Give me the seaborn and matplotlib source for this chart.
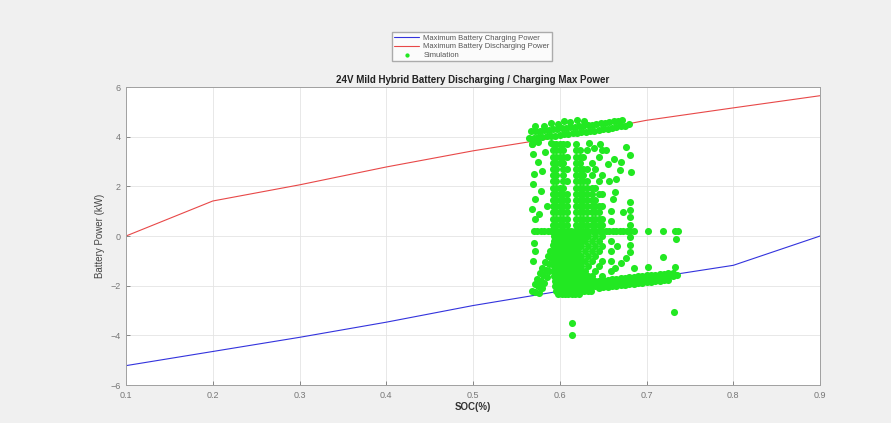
import matplotlib
matplotlib.use("Agg")
import matplotlib.pyplot as plt
import seaborn as sns
import pandas as pd

# ---------------- limit curves ----------------
soc_grid = [0.1, 0.2, 0.3, 0.4, 0.5, 0.6, 0.7, 0.8, 0.9]
max_charge_kw = [-5.22, -4.65, -4.08, -3.47, -2.80, -2.22, -1.72, -1.18, 0.0]
max_discharge_kw = [0.0, 1.41, 2.06, 2.78, 3.43, 3.99, 4.66, 5.16, 5.65]

# ---------------- simulation cloud ----------------
top_lo_soc = [0.565, 0.570, 0.575, 0.580, 0.585, 0.590, 0.595, 0.600, 0.605, 0.610, 0.615, 0.620,
              0.625, 0.630, 0.635, 0.640, 0.645, 0.650, 0.655, 0.660, 0.665, 0.670, 0.675, 0.680]
top_lo_kw = [3.95, 3.96, 3.98, 3.99, 4.01, 4.02, 4.04, 4.07, 4.09, 4.11, 4.13, 4.15,
             4.17, 4.19, 4.22, 4.24, 4.27, 4.29, 4.32, 4.35, 4.38, 4.41, 4.45, 4.52]
top_hi_soc = [0.567, 0.572, 0.577, 0.582, 0.587, 0.592, 0.597, 0.602, 0.607, 0.612, 0.617,
              0.622, 0.627, 0.632, 0.637, 0.642, 0.647, 0.652, 0.657, 0.662, 0.667, 0.672]
top_hi_kw = [4.21, 4.22, 4.24, 4.25, 4.27, 4.29, 4.31, 4.33, 4.35, 4.37, 4.39,
             4.41, 4.44, 4.46, 4.48, 4.51, 4.54, 4.56, 4.59, 4.62, 4.65, 4.68]
top_extra_soc = [0.572, 0.582, 0.590, 0.598, 0.605, 0.612, 0.620, 0.628, 0.590, 0.575, 0.568]
top_extra_kw = [4.45, 4.42, 4.55, 4.50, 4.62, 4.58, 4.66, 4.62, 3.75, 3.80, 3.72]

left_soc = [0.568, 0.569, 0.575, 0.570, 0.569, 0.578, 0.571, 0.568, 0.576, 0.572, 0.570, 0.571,
            0.569, 0.580, 0.583, 0.585]
left_kw = [3.70, 3.30, 3.00, 2.50, 2.10, 1.80, 1.50, 1.10, 0.90, 0.70, -0.30, -0.60,
           -1.00, 2.60, 3.40, 1.20]

hline_soc = [0.570, 0.574, 0.578, 0.582, 0.586, 0.590, 0.653, 0.657, 0.661, 0.665, 0.669,
             0.673, 0.677, 0.681, 0.685, 0.702, 0.719, 0.733, 0.736]
hline_kw = [0.22, 0.22, 0.22, 0.22, 0.22, 0.22, 0.22, 0.22, 0.22, 0.22, 0.22,
            0.22, 0.22, 0.22, 0.22, 0.22, 0.22, 0.22, 0.22]

diag_soc = [0.568, 0.571, 0.574, 0.577, 0.580, 0.583, 0.586, 0.589, 0.592,
            0.572, 0.575, 0.578, 0.581, 0.584, 0.587, 0.590, 0.593,
            0.576, 0.579, 0.582, 0.585, 0.588]
diag_kw = [-2.20, -1.95, -1.72, -1.50, -1.27, -1.05, -0.82, -0.60, -0.38,
           -2.25, -2.02, -1.80, -1.57, -1.35, -1.12, -0.90, -0.67,
           -2.28, -2.08, -1.88, -1.65, -1.42]

block_kw = [0.20, 0.00, -0.20, -0.40, -0.60, -0.80, -1.00, -1.20, -1.40, -1.60, -1.80,
            -2.00, -2.20, -2.35]
block_soc = [
    [0.593, 0.597, 0.601, 0.605, 0.609, 0.613, 0.617, 0.621, 0.625, 0.629, 0.633, 0.637, 0.641, 0.645, 0.649],
    [0.593, 0.597, 0.601, 0.605, 0.609, 0.613, 0.617, 0.621, 0.625, 0.629, 0.633, 0.641, 0.649],
    [0.593, 0.597, 0.601, 0.605, 0.609, 0.613, 0.617, 0.621, 0.625, 0.629, 0.637, 0.645],
    [0.593, 0.597, 0.601, 0.605, 0.609, 0.613, 0.617, 0.621, 0.625, 0.633, 0.641, 0.649],
    [0.593, 0.597, 0.601, 0.605, 0.609, 0.613, 0.617, 0.621, 0.629, 0.637, 0.645],
    [0.593, 0.597, 0.601, 0.605, 0.609, 0.613, 0.617, 0.621, 0.625, 0.633, 0.641],
    [0.593, 0.597, 0.601, 0.605, 0.609, 0.613, 0.617, 0.621, 0.625, 0.629, 0.637, 0.649],
    [0.593, 0.597, 0.601, 0.605, 0.609, 0.613, 0.617, 0.621, 0.625, 0.633, 0.645],
    [0.593, 0.597, 0.601, 0.605, 0.609, 0.613, 0.617, 0.621, 0.625, 0.629, 0.641],
    [0.593, 0.597, 0.601, 0.605, 0.609, 0.613, 0.617, 0.621, 0.625, 0.629, 0.633, 0.637, 0.649],
    [0.594, 0.597, 0.601, 0.605, 0.609, 0.613, 0.617, 0.621, 0.625, 0.629, 0.633, 0.637, 0.641, 0.645],
    [0.595, 0.598, 0.601, 0.605, 0.609, 0.613, 0.617, 0.621, 0.625, 0.629, 0.633, 0.637, 0.641],
    [0.596, 0.600, 0.604, 0.608, 0.612, 0.616, 0.620, 0.624, 0.628, 0.632, 0.636],
    [0.598, 0.602, 0.606, 0.610, 0.614, 0.618, 0.622],
]

bottom_soc = [0.645, 0.650, 0.655, 0.660, 0.665, 0.670, 0.675, 0.680, 0.685, 0.690, 0.695, 0.700,
              0.705, 0.710, 0.715, 0.720, 0.725, 0.730, 0.735]
bottom_kw = [-1.95, -1.93, -1.91, -1.89, -1.87, -1.85, -1.83, -1.81, -1.79, -1.77, -1.75, -1.73,
             -1.71, -1.69, -1.67, -1.65, -1.63, -1.60, -1.57]
bottom_hi_soc = [0.645, 0.650, 0.655, 0.660, 0.665, 0.670, 0.675, 0.680, 0.685, 0.690, 0.695, 0.700,
                 0.705, 0.710, 0.715, 0.720, 0.725, 0.730]
bottom_hi_kw = [-1.81, -1.79, -1.77, -1.75, -1.73, -1.71, -1.69, -1.67, -1.65, -1.63, -1.61, -1.59,
                -1.57, -1.55, -1.53, -1.51, -1.49, -1.47]
bottom_lo_soc = [0.645, 0.650, 0.655, 0.660, 0.665, 0.670, 0.675, 0.680, 0.685, 0.690, 0.695, 0.700,
                 0.705, 0.710, 0.715, 0.720, 0.725]
bottom_lo_kw = [-2.09, -2.07, -2.05, -2.03, -2.01, -1.99, -1.97, -1.95, -1.93, -1.91, -1.89, -1.87,
                -1.85, -1.83, -1.81, -1.79, -1.77]

upper_col_soc = [0.592, 0.596, 0.600, 0.604, 0.608, 0.619, 0.623, 0.627, 0.631, 0.637, 0.641, 0.645, 0.649]
upper_col_kw = [
    [0.45, 0.70, 0.95, 1.20, 1.45, 1.70, 1.95, 2.20, 2.45, 2.70, 2.95, 3.20, 3.45, 3.70],
    [0.45, 0.70, 0.95, 1.20, 1.45, 1.70, 1.95, 2.20, 2.45, 2.70, 2.95, 3.20, 3.45, 3.70],
    [0.45, 0.70, 0.95, 1.20, 1.45, 1.70, 1.95, 2.95, 3.20, 3.45, 3.70],
    [0.45, 0.70, 0.95, 1.20, 1.45, 1.70, 1.95, 2.20, 2.45, 2.70, 2.95, 3.20, 3.45, 3.70],
    [0.45, 0.70, 0.95, 1.20, 1.45, 1.70, 2.20, 2.70, 3.20, 3.70],
    [0.45, 0.70, 0.95, 1.20, 1.45, 1.70, 1.95, 2.20, 2.45, 2.70, 2.95, 3.20, 3.45, 3.70],
    [0.45, 0.70, 0.95, 1.20, 1.45, 1.70, 1.95, 2.20, 2.45, 2.70, 2.95, 3.20, 3.45],
    [0.45, 0.70, 0.95, 1.20, 1.45, 1.70, 1.95, 2.20, 2.45, 2.70, 3.20],
    [0.45, 0.70, 0.95, 1.20, 1.45, 1.70, 1.95, 2.20, 2.70, 3.45],
    [0.45, 0.70, 0.95, 1.20, 1.45, 1.70, 1.95, 2.45, 2.95],
    [0.45, 0.70, 0.95, 1.20, 1.45, 1.95, 2.70],
    [0.45, 0.70, 0.95, 1.20, 1.70, 2.20, 3.20],
    [0.45, 0.70, 1.20, 1.70, 2.45, 3.45],
]

strand_soc = [0.653, 0.676, 0.681, 0.671, 0.669, 0.665, 0.664, 0.661, 0.682, 0.681, 0.681, 0.681,
              0.681, 0.681, 0.681, 0.681, 0.673, 0.659, 0.659, 0.659, 0.659, 0.659, 0.659, 0.666,
              0.670, 0.676, 0.664, 0.686, 0.655, 0.657, 0.662, 0.646, 0.640, 0.634]
strand_kw = [3.47, 3.60, 3.27, 2.98, 2.66, 2.30, 1.77, 1.49, 2.58, 1.37, 1.05, 0.75,
             0.45, -0.05, -0.35, -0.65, 0.97, 1.00, 0.60, -0.20, -0.60, -1.00, -1.40, -0.40,
             -1.10, -0.90, -1.30, -1.30, 2.90, 2.20, 3.10, 3.70, 3.55, 3.75]

outlier_soc = [0.734, 0.719, 0.702, 0.733, 0.614, 0.614, 0.732]
outlier_kw = [-0.12, -0.85, -1.25, -1.25, -3.50, -4.00, -3.06]

# ---------------- assemble ----------------
sim_soc, sim_kw = [], []
for s, k in [(top_lo_soc, top_lo_kw), (top_hi_soc, top_hi_kw), (top_extra_soc, top_extra_kw),
             (left_soc, left_kw), (hline_soc, hline_kw), (diag_soc, diag_kw),
             (bottom_soc, bottom_kw), (bottom_hi_soc, bottom_hi_kw), (bottom_lo_soc, bottom_lo_kw),
             (strand_soc, strand_kw), (outlier_soc, outlier_kw)]:
    sim_soc += s
    sim_kw += k
for k, row in zip(block_kw, block_soc):
    sim_soc += row
    sim_kw += [k] * len(row)
for s, col in zip(upper_col_soc, upper_col_kw):
    sim_soc += [s] * len(col)
    sim_kw += col

sim = pd.DataFrame({"SOC": sim_soc, "Power": sim_kw})
lim = pd.DataFrame({"SOC": soc_grid, "Charge": max_charge_kw, "Discharge": max_discharge_kw})

# ---------------- figure ----------------
sns.set_style("whitegrid")
plt.rcParams["font.family"] = ["Liberation Sans", "DejaVu Sans"]

fig = plt.figure(figsize=(8.91, 4.23), dpi=100, facecolor="#f0f0f0")
ax = fig.add_axes([0.1414, 0.0898, 0.779, 0.7045])
ax.set_facecolor("white")

sns.lineplot(data=lim, x="SOC", y="Charge", ax=ax, color="#3333dd", lw=0.8,
             label="Maximum Battery Charging Power")
sns.lineplot(data=lim, x="SOC", y="Discharge", ax=ax, color="#e84848", lw=0.8,
             label="Maximum Battery Discharging Power")
sns.scatterplot(data=sim, x="SOC", y="Power", ax=ax, color="#22e822", s=26,
                marker="o", linewidth=0, label="Simulation", zorder=3)

ax.set_xlim(0.1, 0.9)
ax.set_ylim(-6, 6)
ax.set_xticks([0.1, 0.2, 0.3, 0.4, 0.5, 0.6, 0.7, 0.8, 0.9])
ax.set_xticklabels(["0.1", "0.2", "0.3", "0.4", "0.5", "0.6", "0.7", "0.8", "0.9"])
ax.set_yticks([-6, -4, -2, 0, 2, 4, 6])
ax.grid(True, color="#e4e4e4", lw=0.6)
for sp in ax.spines.values():
    sp.set_color("#a0a0a0")
    sp.set_linewidth(0.7)
ax.tick_params(axis="both", labelsize=6.5, colors="#777777", direction="in",
               length=3, width=0.6, pad=4)
ax.tick_params(axis="x", bottom=True)
ax.tick_params(axis="y", left=True)

ax.set_xlabel("SOC(%)", fontsize=7, fontweight="bold", color="#333333", labelpad=2)
ax.set_ylabel("Battery Power (kW)", fontsize=7, color="#444444", labelpad=4)
ax.set_title("24V Mild Hybrid Battery Discharging / Charging Max Power",
             fontsize=7, fontweight="bold", color="#222222", pad=3)

handles, labels = ax.get_legend_handles_labels()
ax.get_legend().remove()
fig.legend(handles, labels, loc="center", bbox_to_anchor=(0.5297, 0.890),
           fontsize=5.5, frameon=True, facecolor="white", edgecolor="#999999",
           fancybox=False, handlelength=3.2, borderpad=0.3, labelspacing=0.15,
           handletextpad=0.6, markerscale=0.6, labelcolor="#555555")

fig.savefig("out.png", dpi=100, facecolor=fig.get_facecolor())
